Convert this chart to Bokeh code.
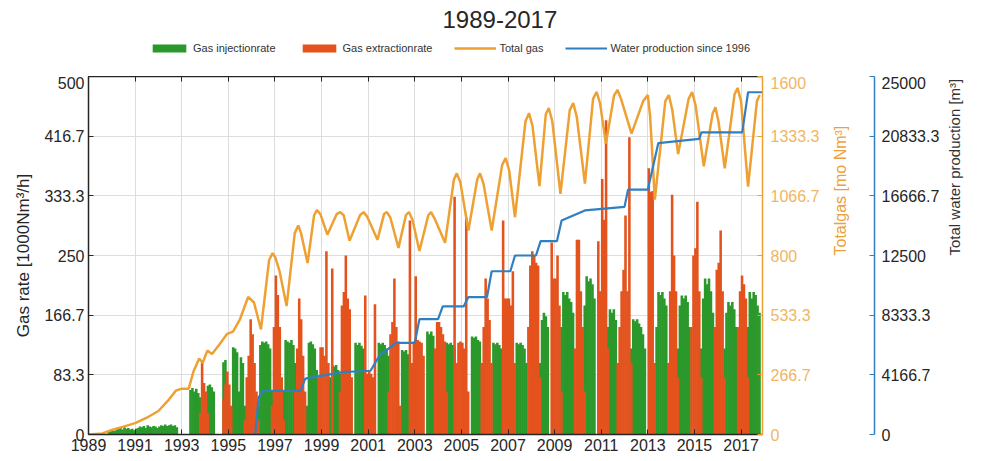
import math
from bokeh.plotting import figure
from bokeh.layouts import column
from bokeh.models import (Range1d, LinearAxis, FixedTicker, CustomJSTickFormatter,
                          Legend, LegendItem, ColumnDataSource)
from bokeh.embed import file_html
from bokeh.resources import INLINE

# ---------------- data ----------------
years = list(range(1989, 2018))

# monthly gas injection rate [1000 Nm3/h], Jan..Dec per year
injection = [
    [0, 0, 0, 0, 0, 0, 0, 0, 0, 0, 5, 6],              # 1989
    [6, 5, 7, 8, 9, 7, 10, 8, 9, 7, 8, 6],             # 1990
    [8, 9, 11, 10, 12, 9, 13, 11, 10, 12, 11, 9],      # 1991
    [11, 13, 12, 14, 12, 13, 14, 12, 13, 10, 0, 0],    # 1992
    [0, 0, 0, 0, 62, 65, 60, 64, 58, 52, 0, 0],        # 1993
    [20, 68, 70, 66, 60, 0, 0, 0, 0, 101, 104, 40],    # 1994
    [0, 30, 122, 120, 115, 60, 108, 100, 40, 0, 0, 0],  # 1995
    [0, 0, 0, 40, 125, 130, 128, 130, 126, 120, 60, 0],  # 1996
    [0, 0, 0, 0, 60, 132, 130, 128, 132, 125, 100, 30],  # 1997
    [0, 0, 0, 0, 40, 128, 130, 126, 120, 90, 0, 0],    # 1998
    [0, 0, 0, 0, 80, 97, 95, 97, 90, 85, 0, 0],        # 1999
    [0, 0, 0, 0, 0, 128, 125, 128, 124, 120, 0, 0],    # 2000
    [0, 0, 0, 0, 0, 128, 126, 128, 125, 120, 110, 0],  # 2001
    [0, 0, 0, 0, 0, 118, 116, 118, 112, 0, 0, 0],      # 2002
    [0, 0, 0, 0, 0, 0, 144, 140, 144, 138, 0, 0],      # 2003
    [0, 0, 0, 90, 128, 126, 128, 125, 120, 0, 0, 0],   # 2004
    [0, 0, 0, 0, 0, 137, 135, 137, 132, 130, 0, 0],    # 2005
    [0, 0, 0, 0, 128, 126, 128, 125, 120, 0, 0, 0],    # 2006
    [0, 0, 0, 0, 128, 126, 128, 125, 120, 100, 0, 0],  # 2007
    [0, 0, 0, 0, 100, 160, 170, 165, 150, 0, 0, 0],    # 2008
    [0, 0, 0, 150, 199, 195, 199, 190, 185, 170, 0, 0],  # 2009
    [0, 0, 0, 180, 221, 214, 218, 210, 190, 0, 0, 0],  # 2010
    [0, 0, 0, 150, 175, 170, 175, 160, 0, 0, 0, 0],    # 2011
    [0, 0, 0, 120, 161, 158, 161, 155, 150, 140, 120, 0],  # 2012
    [0, 0, 0, 100, 150, 199, 195, 199, 190, 180, 0, 0],  # 2013
    [0, 0, 0, 120, 180, 194, 190, 194, 185, 150, 0, 0],  # 2014
    [0, 0, 0, 120, 190, 218, 210, 218, 200, 170, 0, 0],  # 2015
    [0, 0, 0, 120, 170, 185, 180, 185, 175, 150, 0, 0],  # 2016
    [0, 0, 0, 150, 199, 190, 199, 195, 180, 170, 0, 0],  # 2017
]

# monthly gas extraction rate [1000 Nm3/h], Jan..Dec per year
extraction = [
    [0, 0, 0, 0, 0, 0, 0, 0, 0, 0, 0, 0],              # 1989
    [0, 0, 0, 0, 0, 0, 0, 0, 0, 0, 0, 0],              # 1990
    [0, 0, 0, 0, 0, 0, 0, 0, 0, 0, 0, 0],              # 1991
    [0, 0, 0, 0, 0, 0, 0, 0, 0, 0, 0, 0],              # 1992
    [0, 0, 0, 0, 0, 0, 0, 0, 0, 30, 100, 72],          # 1993
    [60, 30, 0, 0, 0, 0, 0, 0, 0, 50, 70, 88],         # 1994
    [70, 40, 0, 0, 0, 0, 0, 0, 20, 80, 110, 161],      # 1995
    [140, 100, 60, 20, 0, 0, 0, 0, 0, 0, 40, 150],     # 1996
    [222, 195, 150, 80, 20, 0, 0, 0, 0, 0, 60, 120],   # 1997
    [190, 161, 110, 60, 0, 0, 0, 0, 0, 0, 80, 122],    # 1998
    [122, 110, 256, 100, 0, 232, 0, 0, 0, 60, 180, 199],  # 1999
    [250, 190, 175, 80, 0, 0, 0, 0, 0, 0, 194, 85],    # 2000
    [90, 85, 80, 182, 0, 0, 0, 0, 0, 0, 60, 140],      # 2001
    [157, 218, 150, 130, 40, 0, 0, 0, 0, 299, 100, 130],  # 2002
    [221, 132, 130, 128, 110, 0, 0, 0, 0, 0, 120, 157],   # 2003
    [157, 150, 140, 130, 60, 0, 0, 0, 332, 100, 128, 130],  # 2004
    [128, 120, 303, 60, 0, 0, 0, 0, 0, 0, 100, 150],   # 2005
    [218, 190, 160, 100, 0, 0, 0, 0, 0, 299, 190, 190],  # 2006
    [190, 180, 228, 100, 0, 0, 0, 0, 0, 0, 150, 236],  # 2007
    [256, 250, 240, 236, 80, 0, 0, 0, 0, 0, 268, 218],  # 2008
    [218, 250, 180, 60, 0, 0, 0, 0, 0, 0, 120, 272],   # 2009
    [272, 200, 150, 60, 0, 0, 0, 0, 0, 0, 270, 200],   # 2010
    [357, 300, 439, 120, 0, 0, 0, 0, 100, 150, 200, 230],  # 2011
    [306, 200, 415, 100, 0, 0, 0, 0, 0, 0, 0, 0],      # 2012
    [372, 339, 340, 100, 0, 0, 0, 0, 0, 0, 100, 200],  # 2013
    [335, 250, 200, 80, 0, 0, 0, 0, 0, 0, 150, 250],   # 2014
    [260, 325, 200, 80, 0, 0, 0, 0, 0, 0, 150, 230],   # 2015
    [240, 285, 200, 80, 0, 0, 0, 0, 0, 0, 150, 200],   # 2016
    [222, 210, 190, 80, 0, 0, 0, 0, 0, 0, 0, 0],       # 2017
]

# total gas in storage [mio Nm3]
gas_t = [1989.0, 1989.6, 1990.0, 1990.5, 1991.0, 1991.5, 1992.0, 1992.4, 1992.75,
         1993.0, 1993.3, 1993.5, 1993.75, 1993.9, 1994.1, 1994.3, 1994.6, 1994.95,
         1995.2, 1995.5, 1995.85, 1996.1, 1996.4,
         1996.75, 1996.9, 1997.02, 1997.2, 1997.5,
         1997.85, 1998.0, 1998.12, 1998.4,
         1998.68, 1998.8, 1998.95, 1999.25,
         1999.65, 1999.8, 1999.95, 2000.2,
         2000.65, 2000.8, 2000.95, 2001.4,
         2001.68, 2001.8, 2001.95, 2002.3,
         2002.62, 2002.75, 2002.9, 2003.2,
         2003.58, 2003.7, 2003.85, 2004.3,
         2004.68, 2004.8, 2004.95, 2005.3,
         2005.68, 2005.8, 2005.95, 2006.3,
         2006.75, 2006.9, 2007.05, 2007.3,
         2007.75, 2007.9, 2008.05, 2008.35,
         2008.62, 2008.75, 2008.9, 2009.25,
         2009.65, 2009.8, 2009.95, 2010.3,
         2010.65, 2010.8, 2010.95, 2011.2,
         2011.55, 2011.7, 2011.85, 2012.3,
         2012.8, 2013.0, 2013.1, 2013.3,
         2013.75, 2013.9, 2014.05, 2014.3,
         2014.75, 2014.9, 2015.05, 2015.4,
         2015.78, 2015.9, 2016.03, 2016.3,
         2016.72, 2016.85, 2017.0, 2017.3,
         2017.68, 2017.8]
gas_v = [0, 5, 20, 35, 51, 75, 105, 150, 196,
         205, 205, 280, 340, 320, 375, 360, 400, 450,
         460, 515, 615, 590, 470,
         780, 811, 790, 729, 574,
         900, 934, 900, 766,
         980, 1003, 985, 893,
         985, 994, 980, 866,
         980, 994, 975, 870,
         985, 994, 970, 834,
         980, 994, 960, 820,
         980, 994, 965, 857,
         1140, 1167, 1130, 912,
         1140, 1167, 1120, 912,
         1205, 1235, 1180, 971,
         1400, 1436, 1380, 1110,
         1430, 1459, 1400, 1076,
         1450, 1481, 1420, 1121,
         1500, 1531, 1480, 1300,
         1515, 1540, 1500, 1345,
         1490, 1517, 1420, 1050,
         1490, 1517, 1450, 1253,
         1500, 1531, 1470, 1199,
         1435, 1463, 1400, 1190,
         1520, 1549, 1490, 1108,
         1490, 1517]

# cumulative water production since 1996 [m3]
water_t = [1996.0, 1996.15, 1996.3, 1996.5, 1998.1, 1998.3, 1999.9, 2001.1, 2001.5,
           2002.2, 2003.0, 2003.2, 2004.0, 2004.2, 2005.1, 2005.3, 2006.1, 2006.3,
           2007.1, 2007.3, 2008.2, 2008.4, 2009.1, 2009.3, 2010.3, 2012.0, 2012.15,
           2013.0, 2013.45, 2015.2, 2015.3, 2017.05, 2017.3, 2017.92]
water_v = [0, 0, 2600, 3050, 3050, 3900, 4350, 4450, 5550,
           6400, 6400, 8050, 8050, 8950, 8950, 9600, 9600, 11400,
           11400, 12500, 12500, 13500, 13500, 14950, 15650, 15900, 17100,
           17100, 20350, 20650, 21100, 21100, 23900, 23900]

x_ticks = list(range(1989, 2018, 2))
rate_ticks = [0, 500 / 6, 1000 / 6, 250, 2000 / 6, 2500 / 6, 500]
gas_ticks = [0, 1600 / 6, 3200 / 6, 800, 6400 / 6, 8000 / 6, 1600]
water_ticks = [0, 25000 / 6, 50000 / 6, 12500, 100000 / 6, 125000 / 6, 25000]

# ---------------- build sources ----------------
month_x, inj_vals, ext_vals = [], [], []
for yi, yr in enumerate(years):
    for m in range(12):
        month_x.append(yr + (m + 0.5) / 12)
        inj_vals.append(injection[yi][m])
        ext_vals.append(extraction[yi][m])
bars = ColumnDataSource(dict(x=month_x, inj=inj_vals, ext=ext_vals))
gas_src = ColumnDataSource(dict(t=gas_t, v=gas_v))
water_src = ColumnDataSource(dict(t=water_t, v=water_v))

FONT = "Liberation Sans"
GREEN = "#2b982b"
RED = "#e4521d"
ORANGE = "#efa033"
BLUE = "#2f7fc1"
W = 975
fmt = CustomJSTickFormatter(code="return (Math.round(tick*10)/10).toString();")

# ---------------- header: title + legend ----------------
# (legend-only renderers: hidden, they carry the same styles as the chart's)
head = figure(width=W, height=76, x_range=Range1d(1989, 2017.92), y_range=Range1d(0, 500),
              output_backend="svg", toolbar_location=None, title="1989-2017",
              x_axis_location=None, y_axis_location=None, min_border=0,
              min_border_top=27)
head.grid.visible = False
head.outline_line_color = None
head.title.text_font = FONT
head.title.text_font_size = "24px"
head.title.text_font_style = "normal"
head.title.text_color = "#262626"
head.title.align = "left"
head.title.offset = 354
head.title.standoff = 0

k_inj = head.vbar(x="x", top="inj", width=0.11, source=bars, fill_color=GREEN,
                  line_color=None, visible=False)
k_ext = head.vbar(x="x", top="ext", width=0.11, source=bars, fill_color=RED,
                  line_color=None, visible=False)
k_gas = head.line(x="t", y="v", source=gas_src, line_color=ORANGE, line_width=2.5,
                  visible=False)
k_wat = head.line(x="t", y="v", source=water_src, line_color=BLUE, line_width=2.2,
                  visible=False)

legend = Legend(items=[LegendItem(label="Gas injectionrate", renderers=[k_inj]),
                       LegendItem(label="Gas extractionrate", renderers=[k_ext]),
                       LegendItem(label="Total gas", renderers=[k_gas]),
                       LegendItem(label="Water production since 1996", renderers=[k_wat])],
                orientation="horizontal", location=(60, 22),
                label_text_font=FONT, label_text_font_size="11px", label_text_color="#333333",
                glyph_width=42, glyph_height=10, spacing=22, label_standoff=3,
                padding=0, margin=0, border_line_color=None, background_fill_alpha=0,
                inactive_fill_alpha=0)
head.add_layout(legend)

# ---------------- main chart ----------------
p = figure(width=W, height=382, x_range=Range1d(1989, 2017.92), y_range=Range1d(0, 500),
           output_backend="svg", toolbar_location=None,
           min_border_left=88, min_border_right=213, min_border_top=0, min_border_bottom=24)
p.extra_y_ranges = {"gas": Range1d(0, 1600), "water": Range1d(0, 25000)}
p.outline_line_color = None
p.background_fill_color = "white"

p.vbar(x="x", top="inj", width=0.11, source=bars, fill_color=GREEN, line_color=None)
p.vbar(x="x", top="ext", width=0.11, source=bars, fill_color=RED, line_color=None)
p.line(x="t", y="v", source=gas_src, y_range_name="gas", line_color=ORANGE, line_width=2.5)
p.line(x="t", y="v", source=water_src, y_range_name="water", line_color=BLUE, line_width=2.2)

# grids
p.xgrid.ticker = FixedTicker(ticks=x_ticks)
p.ygrid.ticker = FixedTicker(ticks=rate_ticks)
for g in (p.xgrid, p.ygrid):
    g.grid_line_color = "#dedede"
    g.grid_line_width = 1

# bottom axis
xa = p.xaxis[0]
xa.ticker = FixedTicker(ticks=x_ticks)
xa.major_tick_in = 5
xa.major_tick_out = 0
xa.minor_tick_out = 0
xa.major_label_standoff = 4
xa.major_label_text_font = FONT
xa.major_label_text_font_size = "16px"
xa.major_label_text_color = "#262626"
xa.axis_line_color = "#262626"
xa.axis_line_width = 1.5
xa.major_tick_line_color = "#262626"

# left axis
ya = p.yaxis[0]
ya.ticker = FixedTicker(ticks=rate_ticks)
ya.formatter = fmt
ya.major_tick_in = 5
ya.major_tick_out = 0
ya.minor_tick_out = 0
ya.major_label_standoff = 4
ya.major_label_text_font = FONT
ya.major_label_text_font_size = "16px"
ya.major_label_text_color = "#262626"
ya.axis_line_color = "#262626"
ya.axis_line_width = 1.5
ya.major_tick_line_color = "#262626"
ya.axis_label = "Gas rate [1000Nm³/h]"
ya.axis_label_text_font = FONT
ya.axis_label_text_font_size = "17px"
ya.axis_label_text_font_style = "normal"
ya.axis_label_text_color = "#262626"
ya.axis_label_standoff = 8

# top axis (ticks only)
top = LinearAxis(ticker=FixedTicker(ticks=x_ticks),
                 formatter=CustomJSTickFormatter(code="return '';"),
                 major_tick_in=5, major_tick_out=0, minor_tick_out=0, minor_tick_in=0,
                 major_label_standoff=0, axis_line_color="#262626", axis_line_width=1.5,
                 major_tick_line_color="#262626")
p.add_layout(top, "above")

# right orange axis
gax = LinearAxis(y_range_name="gas", ticker=FixedTicker(ticks=gas_ticks), formatter=fmt,
                 major_tick_in=5, major_tick_out=0, minor_tick_out=0, minor_tick_in=0,
                 major_label_standoff=8, axis_line_color=ORANGE, axis_line_width=1.5,
                 major_tick_line_color=ORANGE,
                 major_label_text_font=FONT, major_label_text_font_size="16px",
                 major_label_text_color="#f2b562",
                 axis_label="Totalgas [mo Nm³]", axis_label_text_font=FONT,
                 axis_label_text_font_size="16px", axis_label_text_font_style="normal",
                 axis_label_text_color="#eea03a", axis_label_standoff=18)
p.add_layout(gax, "right")

# spacer between the two right axes: one invisible tick, no label text, no line
spacer = LinearAxis(y_range_name="gas", ticker=FixedTicker(ticks=[800]),
                    formatter=CustomJSTickFormatter(code="return '';"),
                    major_tick_in=0, major_tick_out=14, minor_tick_out=0, minor_tick_in=0,
                    axis_line_color=None, major_tick_line_color=None,
                    minor_tick_line_color=None, major_label_standoff=0)
p.add_layout(spacer, "right")

# right blue axis
wax = LinearAxis(y_range_name="water", ticker=FixedTicker(ticks=water_ticks), formatter=fmt,
                 major_tick_in=5, major_tick_out=0, minor_tick_out=0, minor_tick_in=0,
                 major_label_standoff=7, axis_line_color=BLUE, axis_line_width=1.5,
                 major_tick_line_color=BLUE,
                 major_label_text_font=FONT, major_label_text_font_size="16px",
                 major_label_text_color="#262626",
                 axis_label="Total water production [m³]", axis_label_text_font=FONT,
                 axis_label_text_font_size="15px", axis_label_text_font_style="normal",
                 axis_label_text_color="#333333", axis_label_standoff=12)
p.add_layout(wax, "right")

# right-hand axis titles read bottom-to-top, as in the reference
if "axis_label_orientation" in LinearAxis.properties():
    gax.axis_label_orientation = math.pi / 2
    wax.axis_label_orientation = math.pi / 2

layout = column(head, p, spacing=0)
open("out.html", "w").write(file_html(layout, INLINE))
